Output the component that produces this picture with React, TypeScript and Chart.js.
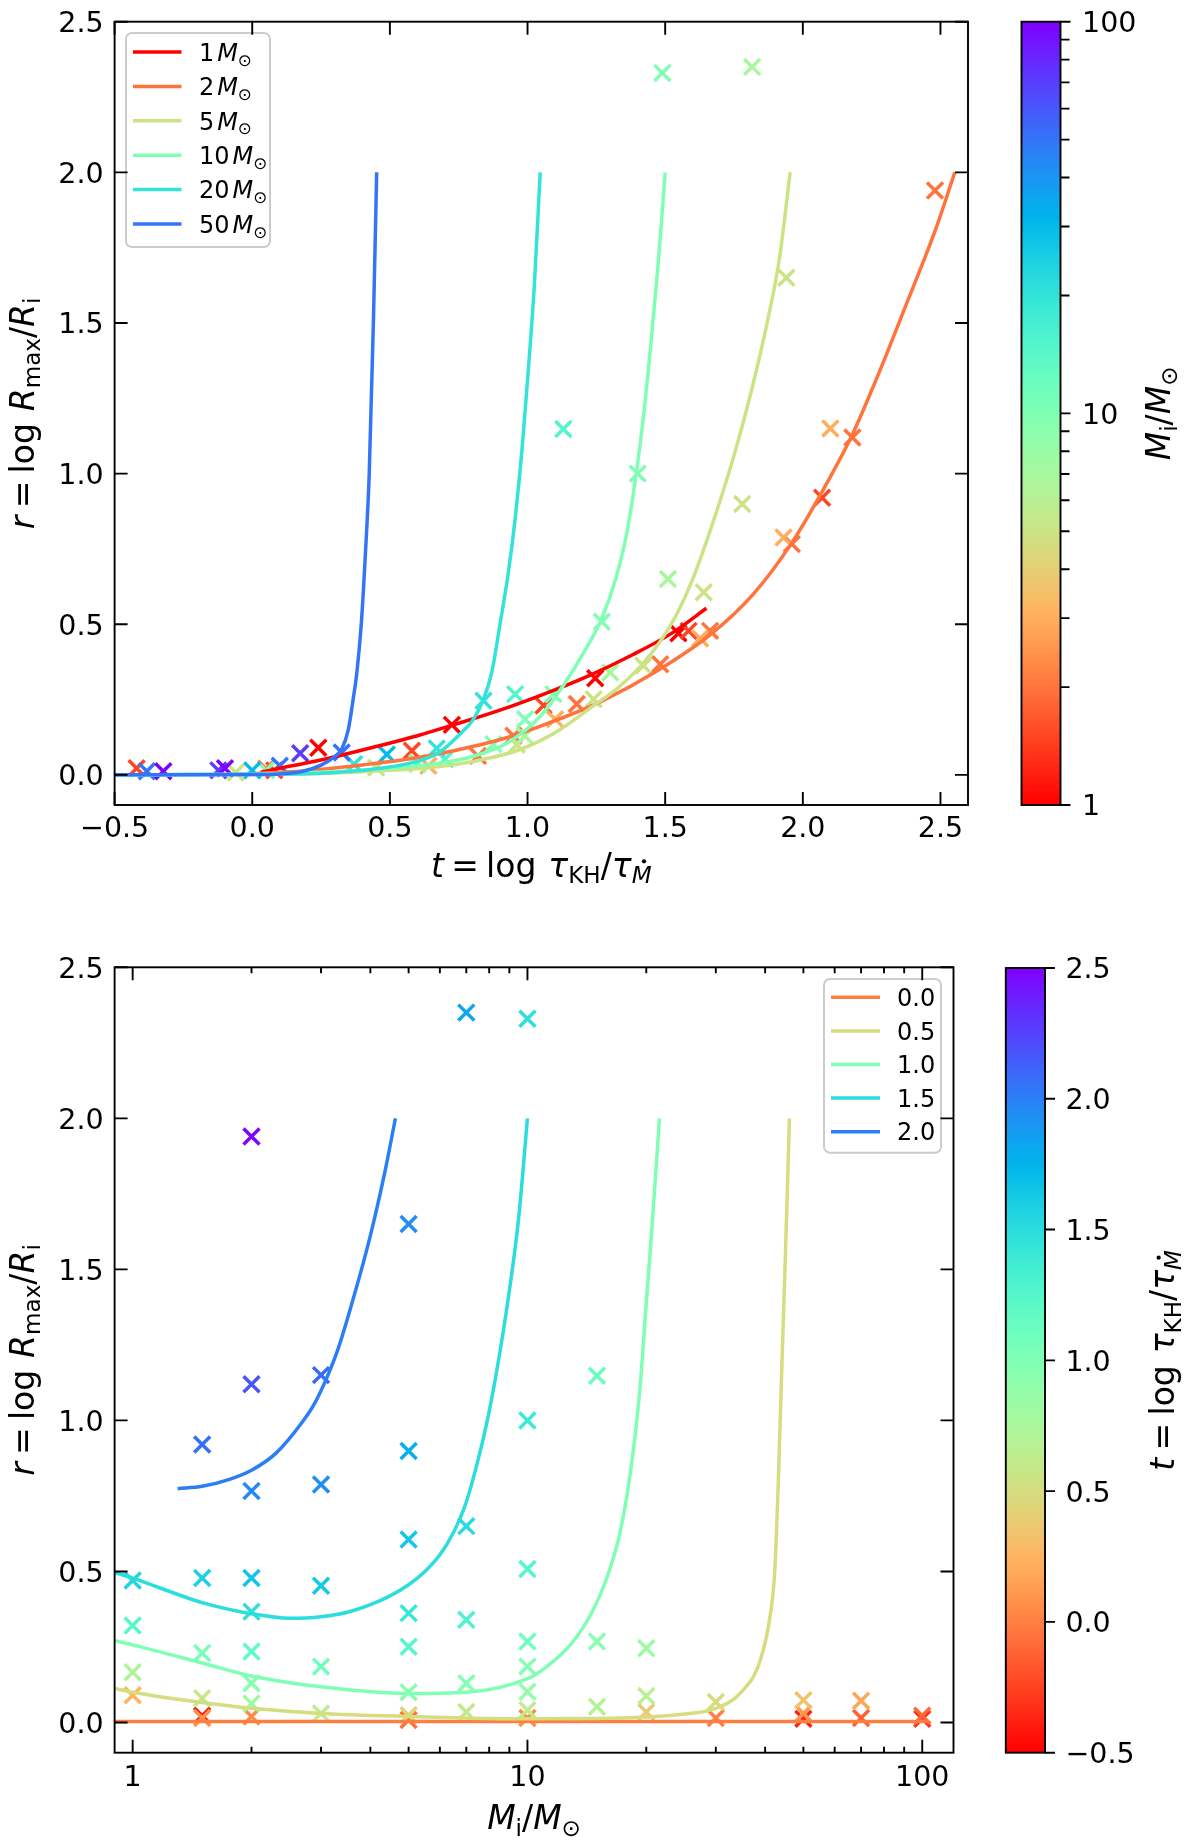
import React, { useEffect, useRef } from "react";
import { Chart, registerables } from "chart.js";

Chart.register(...registerables);

const FONT = '"DejaVu Sans", "Liberation Sans", sans-serif';
const TICK_PX = 28.5;
const TITLE_PX = 33;
const LEGEND_PX = 24;

// ---------------- data: simulated models (initial mass, t, r) ----------------
const PT_MASS = [
  1, 1, 1, 1,
  1.5, 1.5, 1.5, 1.5, 1.5, 1.5,
  2, 2, 2, 2, 2, 2, 2, 2, 2,
  3, 3, 3, 3, 3,
  5, 5, 5, 5, 5, 5, 5, 5,
  7, 7, 7, 7, 7,
  10, 10, 10, 10, 10, 10, 10, 10,
  15, 15, 15,
  20, 20, 20,
  30, 30,
  50, 50, 50,
  70, 70,
  100, 100,
];
const PT_T = [
  0.24, 0.725, 1.246, 1.548,
  -0.42, 0.08, 0.58, 1.058, 1.585, 2.07,
  0.05, 0.82, 0.949, 1.179, 1.482, 1.663, 1.96, 2.18, 2.48,
  0.64, 1.1, 1.627, 1.93, 2.1,
  -0.06, 0.45, 0.961, 1.24, 1.421, 1.64, 1.78, 1.94,
  0.6, 0.99, 1.3, 1.51, 1.816,
  0.05, 0.6, 0.876, 0.991, 1.094, 1.27, 1.4, 1.49,
  0.7, 0.955, 1.13,
  0.37, 0.67, 0.84,
  0.0, 0.489,
  -0.383, 0.1, 0.325,
  -0.123, 0.174,
  -0.323, -0.099,
];
const PT_R = [
  0.09, 0.166, 0.321, 0.47,
  0.022, 0.015, 0.08, 0.23, 0.478, 0.92,
  0.02, 0.063, 0.13, 0.235, 0.367, 0.478, 0.766, 1.12, 1.94,
  0.03, 0.185, 0.453, 0.788, 1.15,
  0.008, 0.024, 0.1, 0.251, 0.362, 0.606, 0.899, 1.65,
  0.035, 0.13, 0.34, 0.65, 2.35,
  0.015, 0.041, 0.102, 0.185, 0.268, 0.508, 1.0, 2.33,
  0.052, 0.268, 1.148,
  0.035, 0.088, 0.246,
  0.015, 0.068,
  0.012, 0.03, 0.074,
  0.015, 0.072,
  0.012, 0.022,
];

// ---------------- top panel fit curves r(t) for fixed mass ----------------
const CURVE_MASSES = [1, 2, 5, 10, 20, 50];
const CURVE_M1 = [[0.03, 0.008], [0.1, 0.022], [0.2, 0.04], [0.3, 0.06], [0.45, 0.094], [0.6, 0.13], [0.72, 0.163], [0.9, 0.215], [1.05, 0.265], [1.22, 0.328], [1.38, 0.398], [1.52, 0.468], [1.65, 0.553]];
const CURVE_M2 = [[0.0, 0.004], [0.2, 0.014], [0.4, 0.033], [0.55, 0.05], [0.7, 0.074], [0.93, 0.125], [1.1, 0.18], [1.27, 0.245], [1.47, 0.345], [1.67, 0.47], [1.82, 0.6], [1.96, 0.77], [2.07, 0.94], [2.18, 1.13], [2.27, 1.32], [2.375, 1.56], [2.486, 1.82], [2.552, 2.0]];
const CURVE_M5 = [[-0.5, 0], [0.0, 0.001], [0.3, 0.006], [0.5, 0.015], [0.68, 0.028], [0.82, 0.048], [0.96, 0.08], [1.1, 0.14], [1.24, 0.23], [1.33, 0.29], [1.41, 0.36], [1.48, 0.44], [1.54, 0.53], [1.6, 0.65], [1.667, 0.82], [1.75, 1.06], [1.82, 1.3], [1.875, 1.52], [1.916, 1.72], [1.954, 2.0]];
const CURVE_M10 = [[-0.5, 0], [0.0, 0.002], [0.3, 0.01], [0.5, 0.022], [0.68, 0.039], [0.8, 0.061], [0.925, 0.105], [1.046, 0.194], [1.143, 0.315], [1.2, 0.4], [1.27, 0.52], [1.32, 0.65], [1.36, 0.8], [1.39, 0.97], [1.42, 1.18], [1.45, 1.45], [1.475, 1.7], [1.5, 2.0]];
const CURVE_M20 = [[-0.5, 0], [0.1, 0.002], [0.3, 0.008], [0.45, 0.02], [0.6, 0.045], [0.68, 0.075], [0.76, 0.14], [0.8, 0.18], [0.84, 0.25], [0.87, 0.34], [0.9, 0.5], [0.93, 0.67], [0.955, 0.85], [0.98, 1.08], [1.0, 1.31], [1.025, 1.63], [1.046, 2.0]];
const CURVE_M50 = [[-0.5, 0], [0.0, 0.001], [0.1, 0.003], [0.18, 0.011], [0.252, 0.033], [0.3, 0.061], [0.325, 0.085], [0.349, 0.15], [0.368, 0.26], [0.38, 0.34], [0.396, 0.5], [0.412, 0.75], [0.425, 1.0], [0.44, 1.5], [0.452, 2.0]];
const TOP_CURVES = [CURVE_M1, CURVE_M2, CURVE_M5, CURVE_M10, CURVE_M20, CURVE_M50];

// ---------------- bottom panel fit curves r(M) for fixed t ----------------
const CURVE_TS = [0.0, 0.5, 1.0, 1.5, 2.0];
const CURVE_T00 = [[0.9, 0.003], [10, 0.003], [104, 0.003]];
const CURVE_T05 = [[0.9, 0.113], [1, 0.1], [1.5, 0.066], [2, 0.047], [3, 0.03], [5, 0.02], [10, 0.012], [15, 0.013], [20, 0.018], [25, 0.028], [30, 0.047], [34.6, 0.097], [38.9, 0.207], [41.3, 0.363], [42.3, 0.5], [43.2, 0.8], [43.9, 1.1], [44.9, 1.5], [46.1, 2.0]];
const CURVE_T10 = [[0.9, 0.271], [1, 0.257], [1.5, 0.197], [2, 0.154], [3, 0.118], [5, 0.096], [7, 0.1], [10, 0.145], [11.2, 0.185], [12.9, 0.26], [14.5, 0.36], [15.8, 0.47], [17.1, 0.62], [18.2, 0.82], [19.2, 1.08], [19.9, 1.35], [20.7, 1.65], [21.6, 2.0]];
const CURVE_T15 = [[0.9, 0.497], [1, 0.478], [1.5, 0.397], [2, 0.36], [2.5, 0.345], [3, 0.35], [3.5, 0.365], [4, 0.39], [4.5, 0.42], [5, 0.456], [5.5, 0.5], [6, 0.555], [6.5, 0.63], [7, 0.73], [7.5, 0.87], [8, 1.03], [8.5, 1.22], [9, 1.43], [9.5, 1.67], [10.0, 2.0]];
const CURVE_T20 = [[1.3, 0.774], [1.5, 0.782], [1.76, 0.805], [2, 0.835], [2.3, 0.89], [2.69, 0.995], [2.9, 1.06], [3.1, 1.14], [3.3, 1.23], [3.56, 1.37], [3.98, 1.6], [4.35, 1.82], [4.63, 2.0]];
const BOTTOM_CURVES = [CURVE_T00, CURVE_T05, CURVE_T10, CURVE_T15, CURVE_T20];

// ---------------- ticks ----------------
const T_TICKS = [-0.5, 0, 0.5, 1, 1.5, 2, 2.5];
const R_TICKS = [0, 0.5, 1, 1.5, 2, 2.5];
const M_MAJOR = [1, 10, 100];
const M_MINOR = [2, 3, 4, 5, 6, 7, 8, 9, 20, 30, 40, 50, 60, 70, 80, 90];

// ---------------- colour map (matplotlib "rainbow") ----------------
function rainbow(x: number): string {
  x = Math.max(0, Math.min(1, x));
  const r = Math.min(1, Math.abs(2 * x - 0.5));
  const g = Math.max(0, Math.sin(Math.PI * x));
  const b = Math.max(0, Math.cos((Math.PI * x) / 2));
  return `rgb(${Math.round(r * 255)},${Math.round(g * 255)},${Math.round(b * 255)})`;
}
const massColor = (m: number) => rainbow(1 - Math.log10(m) / 2);
const tColor = (t: number) => rainbow(1 - (t + 0.5) / 3);
const fmt1 = (v: number) => (v < 0 ? "\u2212" : "") + Math.abs(v).toFixed(1);

// ---------------- math-like text ----------------
type Seg = { s: string; it?: boolean; sub?: boolean; dot?: boolean; gap?: number };
function segFont(sg: Seg, size: number) {
  const sz = sg.sub ? size * 0.7 : size;
  return `${sg.it ? "italic " : ""}${sz}px ${FONT}`;
}
function measureMath(ctx: CanvasRenderingContext2D, segs: Seg[], size: number) {
  let w = 0;
  for (const sg of segs) {
    w += (sg.gap || 0) * size;
    ctx.font = segFont(sg, size);
    w += ctx.measureText(sg.s).width;
  }
  return w;
}
function drawMath(ctx: CanvasRenderingContext2D, segs: Seg[], x: number, y: number, size: number, align: "center" | "left") {
  const total = measureMath(ctx, segs, size);
  let cx = align === "center" ? x - total / 2 : x;
  ctx.textAlign = "left";
  ctx.textBaseline = "alphabetic";
  for (const sg of segs) {
    cx += (sg.gap || 0) * size;
    ctx.font = segFont(sg, size);
    const dy = sg.sub ? size * 0.2 : 0;
    const w = ctx.measureText(sg.s).width;
    ctx.fillText(sg.s, cx, y + dy);
    if (sg.dot) {
      const sz = size * 0.7;
      ctx.beginPath();
      ctx.arc(cx + w * 0.62, y + dy - sz * 0.73 - sz * 0.22, size * 0.065, 0, Math.PI * 2);
      ctx.fill();
    }
    cx += w;
  }
}
function drawMathRotated(ctx: CanvasRenderingContext2D, segs: Seg[], x: number, y: number, size: number) {
  ctx.save();
  ctx.translate(x, y);
  ctx.rotate(-Math.PI / 2);
  drawMath(ctx, segs, 0, 0, size, "center");
  ctx.restore();
}

const T_TITLE: Seg[] = [
  { s: "t", it: true },
  { s: "=", gap: 0.22 },
  { s: "log", gap: 0.22 },
  { s: "\u03C4", it: true, gap: 0.36 },
  { s: "KH", sub: true },
  { s: "/" },
  { s: "\u03C4", it: true },
  { s: "M", it: true, sub: true, dot: true },
];
const R_TITLE: Seg[] = [
  { s: "r", it: true },
  { s: "=", gap: 0.22 },
  { s: "log", gap: 0.22 },
  { s: "R", it: true, gap: 0.36 },
  { s: "max", sub: true },
  { s: "/" },
  { s: "R", it: true },
  { s: "i", sub: true },
];
const M_TITLE: Seg[] = [
  { s: "M", it: true },
  { s: "i", sub: true },
  { s: "/" },
  { s: "M", it: true },
  { s: "\u2299", sub: true },
];
const massLegend = (m: number): Seg[] => [{ s: String(m) }, { s: "M", it: true, gap: 0.12 }, { s: "\u2299", sub: true }];

function roundRectPath(ctx: CanvasRenderingContext2D, x: number, y: number, w: number, h: number, r: number) {
  ctx.beginPath();
  ctx.moveTo(x + r, y);
  ctx.lineTo(x + w - r, y);
  ctx.arcTo(x + w, y, x + w, y + r, r);
  ctx.lineTo(x + w, y + h - r);
  ctx.arcTo(x + w, y + h, x + w - r, y + h, r);
  ctx.lineTo(x + r, y + h);
  ctx.arcTo(x, y + h, x, y + h - r, r);
  ctx.lineTo(x, y + r);
  ctx.arcTo(x, y, x + r, y, r);
  ctx.closePath();
}

type LegendCfg = {
  box: [number, number, number, number];
  rowY0: number;
  rowDy: number;
  lineX0: number;
  lineX1: number;
  textX: number;
  items: { color: string; segs: Seg[] }[];
};
type AxesCfg = {
  xMajor: number[];
  xMinor: number[];
  yMajor: number[];
  xLabel: (v: number) => string;
  xLabelBaseline: number;
  xTitle: Seg[];
  xTitleBaseline: number;
  yTitle: Seg[];
  yTitleX: number;
  legend: LegendCfg;
};

function axesPlugin(o: AxesCfg) {
  return {
    id: "axesDecor",
    afterDraw(chart: any) {
      const ctx: CanvasRenderingContext2D = chart.ctx;
      const ca = chart.chartArea;
      const xs = chart.scales.x;
      const ys = chart.scales.y;
      ctx.save();
      // legend
      const lg = o.legend;
      const [bx0, by0, bx1, by1] = lg.box;
      roundRectPath(ctx, bx0, by0, bx1 - bx0, by1 - by0, 6);
      ctx.fillStyle = "rgba(255,255,255,0.8)";
      ctx.fill();
      ctx.strokeStyle = "#cccccc";
      ctx.lineWidth = 2;
      ctx.stroke();
      lg.items.forEach((it, i) => {
        const y = lg.rowY0 + i * lg.rowDy;
        ctx.strokeStyle = it.color;
        ctx.lineWidth = 3.5;
        ctx.beginPath();
        ctx.moveTo(lg.lineX0, y);
        ctx.lineTo(lg.lineX1, y);
        ctx.stroke();
        ctx.fillStyle = "#000";
        drawMath(ctx, it.segs, lg.textX, y + 0.364 * LEGEND_PX, LEGEND_PX, "left");
      });
      // ticks (inward, all four sides)
      ctx.strokeStyle = "#000";
      ctx.lineWidth = 1.9;
      ctx.lineCap = "butt";
      ctx.beginPath();
      const L = 13;
      const Lm = 6;
      for (const v of o.xMajor) {
        const p = xs.getPixelForValue(v);
        ctx.moveTo(p, ca.bottom);
        ctx.lineTo(p, ca.bottom - L);
        ctx.moveTo(p, ca.top);
        ctx.lineTo(p, ca.top + L);
      }
      for (const v of o.xMinor) {
        const p = xs.getPixelForValue(v);
        ctx.moveTo(p, ca.bottom);
        ctx.lineTo(p, ca.bottom - Lm);
        ctx.moveTo(p, ca.top);
        ctx.lineTo(p, ca.top + Lm);
      }
      for (const v of o.yMajor) {
        const p = ys.getPixelForValue(v);
        ctx.moveTo(ca.left, p);
        ctx.lineTo(ca.left + L, p);
        ctx.moveTo(ca.right, p);
        ctx.lineTo(ca.right - L, p);
      }
      ctx.stroke();
      ctx.strokeRect(ca.left, ca.top, ca.right - ca.left, ca.bottom - ca.top);
      // tick labels
      ctx.fillStyle = "#000";
      ctx.font = `${TICK_PX}px ${FONT}`;
      ctx.textBaseline = "alphabetic";
      ctx.textAlign = "center";
      for (const v of o.xMajor) ctx.fillText(o.xLabel(v), xs.getPixelForValue(v), o.xLabelBaseline);
      ctx.textAlign = "right";
      for (const v of o.yMajor) ctx.fillText(fmt1(v), ca.left - 11, ys.getPixelForValue(v) + 0.364 * TICK_PX);
      // titles
      drawMath(ctx, o.xTitle, (ca.left + ca.right) / 2, o.xTitleBaseline, TITLE_PX, "center");
      drawMathRotated(ctx, o.yTitle, o.yTitleX, (ca.top + ca.bottom) / 2, TITLE_PX);
      ctx.restore();
    },
  };
}

type CbCfg = {
  major: number[];
  minor: number[];
  label: (v: number) => string;
  labelPad: number;
  title: Seg[];
  titleX: number;
};
function colorbarPlugin(o: CbCfg) {
  return {
    id: "colorbarDecor",
    afterDraw(chart: any) {
      const ctx: CanvasRenderingContext2D = chart.ctx;
      const ca = chart.chartArea;
      const ys = chart.scales.y;
      ctx.save();
      const g = ctx.createLinearGradient(0, ca.bottom, 0, ca.top);
      for (let i = 0; i <= 100; i++) {
        const s = i / 100;
        g.addColorStop(s, rainbow(1 - s));
      }
      ctx.fillStyle = g;
      ctx.fillRect(ca.left, ca.top, ca.right - ca.left, ca.bottom - ca.top);
      ctx.strokeStyle = "#000";
      ctx.lineWidth = 1.9;
      ctx.strokeRect(ca.left, ca.top, ca.right - ca.left, ca.bottom - ca.top);
      ctx.beginPath();
      for (const v of o.major) {
        const p = ys.getPixelForValue(v);
        ctx.moveTo(ca.right, p);
        ctx.lineTo(ca.right + 10, p);
      }
      for (const v of o.minor) {
        const p = ys.getPixelForValue(v);
        ctx.moveTo(ca.right, p);
        ctx.lineTo(ca.right + 9, p);
      }
      ctx.stroke();
      ctx.fillStyle = "#000";
      ctx.font = `${TICK_PX}px ${FONT}`;
      ctx.textAlign = "left";
      ctx.textBaseline = "alphabetic";
      for (const v of o.major) ctx.fillText(o.label(v), ca.right + o.labelPad, ys.getPixelForValue(v) + 0.364 * TICK_PX);
      drawMathRotated(ctx, o.title, o.titleX, (ca.top + ca.bottom) / 2, TITLE_PX);
      ctx.restore();
    },
  };
}

const baseOptions = (padding: any, x: any, y: any) => ({
  responsive: false,
  animation: false as const,
  devicePixelRatio: 1,
  events: [] as any[],
  layout: { padding },
  scales: { x: { ...x, display: false }, y: { ...y, display: false } },
  plugins: { legend: { display: false }, tooltip: { enabled: false }, title: { display: false } },
});

function curveDataset(pts: number[][], color: string, order: number) {
  return {
    type: "line" as const,
    data: pts.map(([x, y]) => ({ x, y })),
    borderColor: color,
    backgroundColor: color,
    borderWidth: 3.5,
    pointRadius: 0,
    fill: false,
    cubicInterpolationMode: "monotone" as const,
    order,
  };
}
function markerDataset(xs: number[], ys: number[], colors: string[]) {
  return {
    type: "scatter" as const,
    data: xs.map((x, i) => ({ x, y: ys[i] })),
    pointStyle: "crossRot" as const,
    pointRadius: 11.3,
    pointBorderWidth: 3.5,
    pointBorderColor: colors,
    pointBackgroundColor: colors,
    showLine: false,
    order: 100,
  };
}

export default function App() {
  const c1 = useRef<HTMLCanvasElement>(null);
  const c2 = useRef<HTMLCanvasElement>(null);
  const c3 = useRef<HTMLCanvasElement>(null);
  const c4 = useRef<HTMLCanvasElement>(null);

  useEffect(() => {
    document.body.style.margin = "0";
    const charts: Chart[] = [];

    // ---- top panel ----
    const topDatasets: any[] = [markerDataset(PT_T, PT_R, PT_MASS.map(massColor))];
    TOP_CURVES.forEach((c, i) => topDatasets.push(curveDataset(c, massColor(CURVE_MASSES[i]), 10 - i)));
    charts.push(
      new Chart(c1.current as HTMLCanvasElement, {
        type: "scatter",
        data: { datasets: topDatasets },
        options: baseOptions(
          { left: 114.6, right: 32, top: 21.7, bottom: 95 },
          { type: "linear", min: -0.5, max: 2.6 },
          { type: "linear", min: -0.1, max: 2.5 }
        ) as any,
        plugins: [
          axesPlugin({
            xMajor: T_TICKS,
            xMinor: [],
            yMajor: R_TICKS,
            xLabel: fmt1,
            xLabelBaseline: 836.7,
            xTitle: T_TITLE,
            xTitleBaseline: 876.7,
            yTitle: R_TITLE,
            yTitleX: 33.5,
            legend: {
              box: [126, 33, 270, 247],
              rowY0: 52,
              rowDy: 34.4,
              lineX0: 133,
              lineX1: 181.5,
              textX: 199,
              items: CURVE_MASSES.map((m) => ({ color: massColor(m), segs: massLegend(m) })),
            },
          }) as any,
        ],
      })
    );

    // ---- top colorbar ----
    charts.push(
      new Chart(c2.current as HTMLCanvasElement, {
        type: "scatter",
        data: { datasets: [] },
        options: baseOptions(
          { left: 21.5, right: 139.5, top: 21.7, bottom: 95 },
          { type: "linear", min: 0, max: 1 },
          { type: "logarithmic", min: 1, max: 100 }
        ) as any,
        plugins: [
          colorbarPlugin({
            major: M_MAJOR,
            minor: M_MINOR,
            label: (v) => String(v),
            labelPad: 21.5,
            title: M_TITLE,
            titleX: 170,
          }) as any,
        ],
      })
    );

    // ---- bottom panel ----
    const botDatasets: any[] = [markerDataset(PT_MASS, PT_R, PT_T.map(tColor))];
    BOTTOM_CURVES.forEach((c, i) => botDatasets.push(curveDataset(c, tColor(CURVE_TS[i]), 10 - i)));
    charts.push(
      new Chart(c3.current as HTMLCanvasElement, {
        type: "scatter",
        data: { datasets: botDatasets },
        options: baseOptions(
          { left: 114.6, right: 46.5, top: 67.3, bottom: 94.3 },
          { type: "logarithmic", min: 0.9, max: 120 },
          { type: "linear", min: -0.1, max: 2.5 }
        ) as any,
        plugins: [
          axesPlugin({
            xMajor: M_MAJOR,
            xMinor: M_MINOR,
            yMajor: R_TICKS,
            xLabel: (v) => String(v),
            xLabelBaseline: 886,
            xTitle: M_TITLE,
            xTitleBaseline: 929,
            yTitle: R_TITLE,
            yTitleX: 33.5,
            legend: {
              box: [824, 79, 941, 252.7],
              rowY0: 97.3,
              rowDy: 33.6,
              lineX0: 831,
              lineX1: 880,
              textX: 897,
              items: CURVE_TS.map((t) => ({ color: tColor(t), segs: [{ s: fmt1(t) }] })),
            },
          }) as any,
        ],
      })
    );

    // ---- bottom colorbar ----
    charts.push(
      new Chart(c4.current as HTMLCanvasElement, {
        type: "scatter",
        data: { datasets: [] },
        options: baseOptions(
          { left: 5.8, right: 155, top: 68, bottom: 94.3 },
          { type: "linear", min: 0, max: 1 },
          { type: "linear", min: -0.5, max: 2.5 }
        ) as any,
        plugins: [
          colorbarPlugin({
            major: T_TICKS,
            minor: [],
            label: fmt1,
            labelPad: 20.4,
            title: T_TITLE,
            titleX: 174,
          }) as any,
        ],
      })
    );

    return () => charts.forEach((c) => c.destroy());
  }, []);

  const abs = (left: number, top: number) => ({ position: "absolute" as const, left, top });
  return (
    <div style={{ position: "relative", width: 1200, height: 1847, background: "#ffffff", overflow: "hidden" }}>
      <canvas ref={c1} width={1000} height={900} style={abs(0, 0)} />
      <canvas ref={c2} width={200} height={900} style={abs(1000, 0)} />
      <canvas ref={c3} width={1000} height={947} style={abs(0, 900)} />
      <canvas ref={c4} width={200} height={947} style={abs(1000, 900)} />
    </div>
  );
}
